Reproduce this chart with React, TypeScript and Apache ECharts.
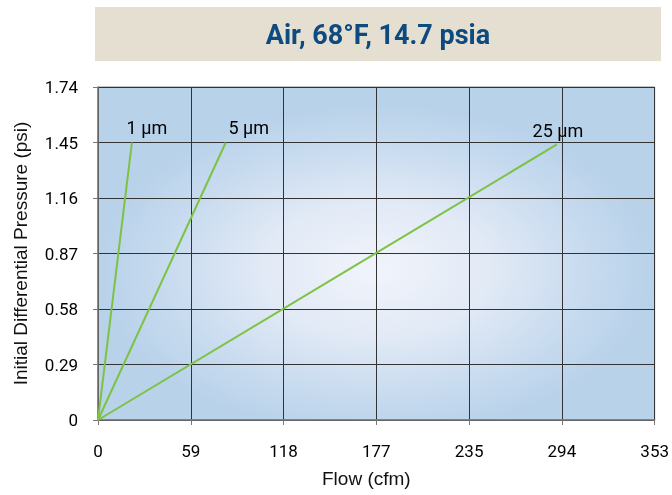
import React, { useEffect, useRef } from "react";
import * as echarts from "echarts";

const titleText = "Air, 68°F, 14.7 psia";
const xAxisName = "Flow (cfm)";
const yAxisName = "Initial Differential Pressure (psi)";
const xTickLabels = ["0", "59", "118", "177", "235", "294", "353"];
const yTickLabels = ["0", "0.29", "0.58", "0.87", "1.16", "1.45", "1.74"];
const xMax = 353;
const yMax = 1.74;
const yStep = 0.29;

const seriesNames = ["1 µm", "5 µm", "25 µm"];
const flow1um = [0, 21.5];
const dp1um = [0, 1.45];
const flow5um = [0, 81];
const dp5um = [0, 1.45];
const flow25um = [0, 291];
const dp25um = [0, 1.44];

const NARROW = 'Roboto, "Liberation Sans", sans-serif';
const REGULAR = '"Liberation Sans", Arial, sans-serif';

export default function App() {
  const ref = useRef<HTMLDivElement>(null);
  useEffect(() => {
    if (!ref.current) return;
    const chart = echarts.init(ref.current, null, { renderer: "svg" });
    const xStep = xMax / 6;
    const pairs = (xs: number[], ys: number[]) => xs.map((x, i) => [x, ys[i]]);
    const seriesData = [pairs(flow1um, dp1um), pairs(flow5um, dp5um), pairs(flow25um, dp25um)];
    const labelOffsets = [[15, -6], [23, -6], [1, -5]];
    chart.setOption({
      animation: false,
      graphic: [
        {
          type: "rect",
          shape: { x: 95, y: 7, width: 566, height: 54 },
          style: { fill: "#e4dfd1" },
          silent: true,
        },
        {
          type: "text",
          x: 378,
          y: 35,
          style: {
            text: titleText,
            fontFamily: NARROW,
            fontWeight: "bold",
            fontSize: 27,
            fill: "#0d4a80",
            align: "center",
            verticalAlign: "middle",
          },
          silent: true,
        },
      ],
      grid: {
        left: 98,
        right: 14,
        top: 87,
        bottom: 75,
        show: true,
        borderColor: "#8a8a8a",
        borderWidth: 1,
        backgroundColor: {
          type: "radial",
          x: 0.5,
          y: 0.55,
          r: 0.5,
          colorStops: [
            { offset: 0, color: "#f1f4fb" },
            { offset: 0.4, color: "#e2eaf6" },
            { offset: 0.75, color: "#c8dbef" },
            { offset: 1, color: "#b8d2ea" },
          ],
        },
      },
      xAxis: {
        type: "value",
        min: 0,
        max: xMax,
        interval: xStep,
        name: xAxisName,
        nameLocation: "middle",
        nameGap: 49,
        nameTextStyle: { fontFamily: REGULAR, fontSize: 19, color: "#111", padding: [0, 20, 0, 0] },
        axisLine: { show: true, lineStyle: { color: "#777", width: 1.5 } },
        axisTick: { show: true, length: 5, lineStyle: { color: "#777" } },
        axisLabel: {
          margin: 22,
          fontFamily: NARROW,
          fontSize: 17,
          color: "#000",
          formatter: (v: number) => xTickLabels[Math.round(v / xStep)] ?? "",
        },
        splitLine: { show: true, lineStyle: { color: "#333", width: 1 } },
      },
      yAxis: {
        type: "value",
        min: 0,
        max: yMax,
        interval: yStep,
        name: yAxisName,
        nameLocation: "middle",
        nameGap: 68,
        nameTextStyle: { fontFamily: REGULAR, fontSize: 19, color: "#111" },
        axisLine: { show: true, lineStyle: { color: "#777", width: 1.5 } },
        axisTick: { show: true, length: 5, lineStyle: { color: "#777" } },
        axisLabel: {
          margin: 20,
          fontFamily: NARROW,
          fontSize: 17,
          color: "#000",
          formatter: (v: number) => yTickLabels[Math.round(v / yStep)] ?? "",
        },
        splitLine: { show: true, lineStyle: { color: "#333", width: 1 } },
      },
      series: seriesNames.map((name, i) => ({
        name,
        type: "line",
        data: seriesData[i],
        showSymbol: false,
        symbol: "none",
        lineStyle: { color: "#7dc243", width: 2 },
        itemStyle: { color: "#7dc243" },
        endLabel: {
          show: true,
          formatter: name,
          align: "center",
          verticalAlign: "bottom",
          distance: 0,
          offset: labelOffsets[i],
          fontFamily: NARROW,
          fontSize: 18,
          color: "#000",
        },
        silent: true,
      })),
    });
    return () => chart.dispose();
  }, []);
  return (
    <div
      ref={ref}
      style={{ position: "fixed", left: 0, top: 0, width: 672, height: 495 }}
    />
  );
}
